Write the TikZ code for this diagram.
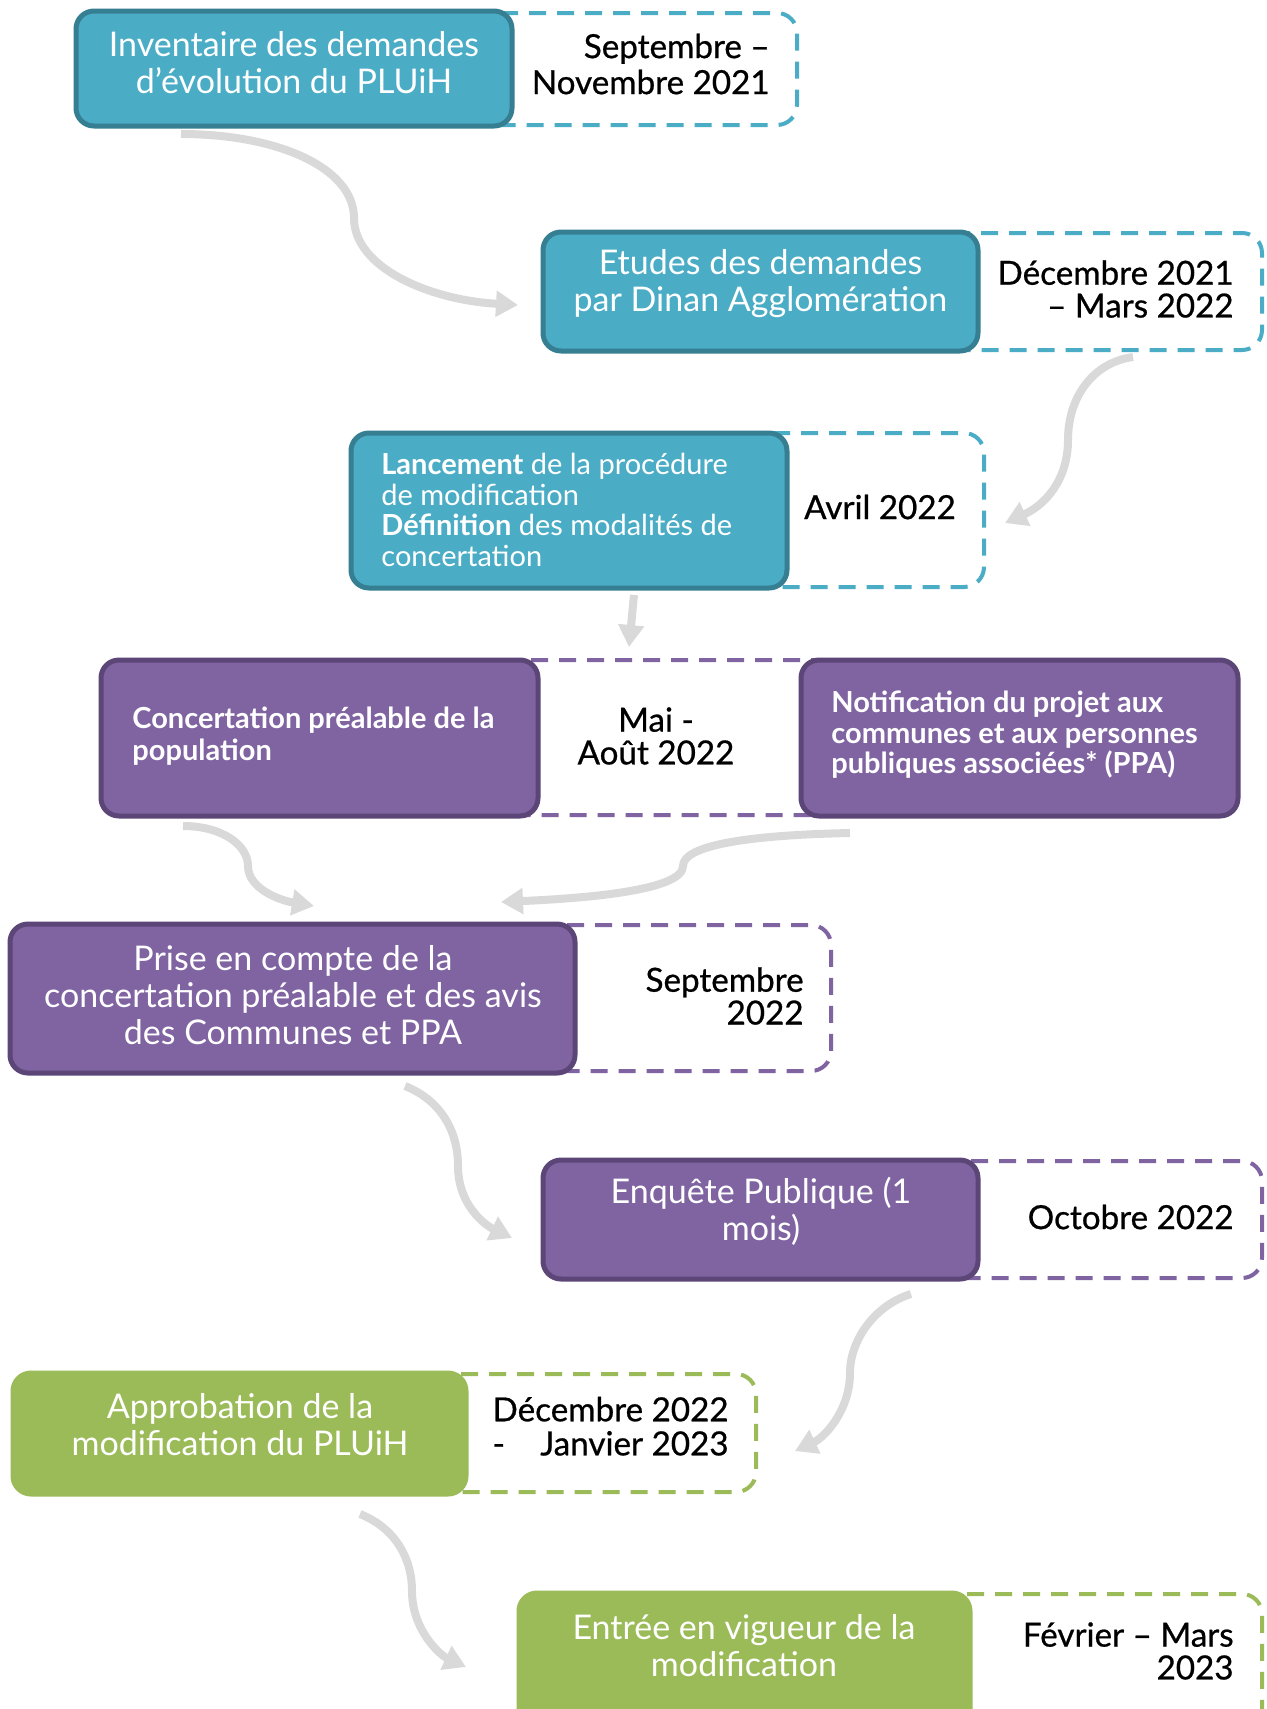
\documentclass[tikz,border=0pt]{standalone}
\usepackage{fontspec}
\setmainfont{Lato}
\newfontfamily\datefont[FakeBold=0.7]{Lato}
\usetikzlibrary{arrows.meta}
\definecolor{tealF}{HTML}{4BACC6}
\definecolor{tealD}{HTML}{367E92}
\definecolor{purpF}{HTML}{8064A2}
\definecolor{purpD}{HTML}{5C4677}
\definecolor{greenF}{HTML}{9BBB59}
\definecolor{arrG}{HTML}{D9D9D9}
\tikzset{
  solidbox/.style={rounded corners=9pt, line width=2.5pt, inner sep=0pt},
  tealbox/.style={solidbox, draw=tealD, fill=tealF},
  purpbox/.style={solidbox, draw=purpD, fill=purpF},
  greenbox/.style={solidbox, draw=greenF, fill=greenF},
  dashbox/.style={rounded corners=10pt, line width=2pt, dash pattern=on 8.5pt off 5.5pt},
  bigtxt/.style={text=white, align=center, font=\fontsize{17}{18.5}\selectfont, inner sep=0pt},
  smalltxt/.style={text=white, align=left, font=\fontsize{14.5}{15.3}\selectfont, inner sep=0pt},
  datetxt/.style={text=black, align=right, font=\datefont\fontsize{16.6}{16.4}\selectfont, inner sep=0pt},
  flow/.style={draw=arrG, line width=4pt, -{Triangle[length=11pt,width=12.5pt]}},
}
\begin{document}
\begin{tikzpicture}[x=0.5pt,y=-0.5pt]
\useasboundingbox[fill=white] (0,0) rectangle (1266,1709);

% ---- Row 1
\draw[dashbox, draw=tealF] (470,13) rectangle (797,125);
\node[tealbox, minimum width=218pt, minimum height=57.5pt] (b1) at (294,68.5) {};
\node[bigtxt] (t1) at (294,63) {Inventaire des demandes\\d’évolution du PLUiH};
\node[datetxt, anchor=east, font=\datefont\fontsize{16.6}{18}\selectfont] (d1) at (770,64) {Septembre –\\Novembre 2021};

% ---- Row 2
\draw[dashbox, draw=tealF] (930,233) rectangle (1262,350);
\node[tealbox, minimum width=217.5pt, minimum height=59.5pt] (b2) at (760.5,291.5) {};
\node[bigtxt] (t2) at (760.5,284) {Etudes des demandes\\par Dinan Agglomération};
\node[datetxt, anchor=east] (d2) at (1234,289) {Décembre 2021\\– Mars 2022};

% ---- Row 3
\draw[dashbox, draw=tealF] (740,433) rectangle (984,587);
\node[tealbox, minimum width=218pt, minimum height=77.5pt] (b3) at (569,510.5) {};
\node[smalltxt, anchor=west] (t3) at (381,510) {\textbf{Lancement} de la procédure\\de modification\\\textbf{Définition} des modalités de\\concertation};
\node[datetxt] (d3) at (880,507) {Avril 2022};

% ---- Row 4
\draw[dashbox, draw=purpF] (500,660) rectangle (840,815);
\node[purpbox, minimum width=218.5pt, minimum height=78pt] (b4a) at (319.5,738) {};
\node[smalltxt, anchor=west, font=\bfseries\fontsize{14.5}{15.8}\selectfont] (t4a) at (132,736) {Concertation préalable de la\\population};
\node[purpbox, minimum width=218.5pt, minimum height=78pt] (b4b) at (1019.5,738) {};
\node[smalltxt, anchor=west, font=\bfseries\fontsize{14.5}{15.3}\selectfont] (t4b) at (831,735) {Notification du projet aux\\communes et aux personnes\\publiques associées* (PPA)};
\node[datetxt, align=center] (d4) at (656,736) {Mai -\\Août 2022};

% ---- Row 5
\draw[dashbox, draw=purpF] (540,925) rectangle (831,1071);
\node[purpbox, minimum width=282.5pt, minimum height=74.5pt] (b5) at (292.5,998.5) {};
\node[bigtxt] (t5) at (293,995) {Prise en compte de la\\concertation préalable et des avis\\des Communes et PPA};
\node[datetxt, anchor=east] (d5) at (804,996) {Septembre\\2022};

% ---- Row 6
\draw[dashbox, draw=purpF] (940,1161) rectangle (1262,1278);
\node[purpbox, minimum width=217.5pt, minimum height=59.5pt] (b6) at (760.5,1219.5) {};
\node[bigtxt] (t6) at (761,1211) {Enquête Publique (1\\mois)};
\node[datetxt, anchor=east] (d6) at (1234,1217) {Octobre 2022};

% ---- Row 7
\draw[dashbox, draw=greenF] (440,1374) rectangle (756,1492);
\node[greenbox, minimum width=226.5pt, minimum height=60.5pt] (b7) at (239.5,1433.5) {};
\node[bigtxt] (t7) at (240,1425) {Approbation de la\\modification du PLUiH};
\node[datetxt, anchor=east] (d7) at (729,1431) {\begin{tabular}{@{}l@{}r@{}}\multicolumn{2}{@{}r@{}}{Décembre 2022}\\ - & Janvier 2023\end{tabular}};

% ---- Row 8
\draw[dashbox, draw=greenF] (930,1594) rectangle (1262,1760);
\node[greenbox, minimum width=225.5pt, minimum height=83.5pt] (b8) at (744.5,1676.5) {};
\node[bigtxt] (t8) at (744,1646) {Entrée en vigueur de la\\modification};
\node[datetxt, anchor=east] (d8) at (1234,1651) {Février – Mars\\2023};

% ---- Connectors
\coordinate (a1s) at (181,134); \coordinate (a1m) at (354,218); \coordinate (a1e) at (518,305);
\draw[flow] (a1s) .. controls (278,134) and (354,168) .. (a1m) .. controls (354,268) and (430,300) .. (a1e);

\coordinate (a2s) at (1133,357); \coordinate (a2m) at (1068,440); \coordinate (a2e) at (1005,523);
\draw[flow] (a2s) .. controls (1095,362) and (1068,395) .. (a2m) .. controls (1068,480) and (1045,505) .. (a2e);

\coordinate (a3s) at (634,595); \coordinate (a3e) at (629,647);
\draw[flow] (a3s) -- (a3e);

\coordinate (a4s) at (183,826); \coordinate (a4m) at (248,866); \coordinate (a4e) at (314,906);
\draw[flow] (a4s) .. controls (222,826) and (248,845) .. (a4m) .. controls (248,888) and (278,900) .. (a4e);

\coordinate (a5s) at (850,833); \coordinate (a5m) at (683,866); \coordinate (a5e) at (501,902);
\draw[flow] (a5s) .. controls (750,835) and (683,845) .. (a5m) .. controls (683,890) and (590,898) .. (a5e);

\coordinate (a6s) at (405,1086); \coordinate (a6m) at (458,1166); \coordinate (a6e) at (512,1238);
\draw[flow] (a6s) .. controls (440,1100) and (458,1130) .. (a6m) .. controls (458,1205) and (485,1225) .. (a6e);

\coordinate (a7s) at (911,1294); \coordinate (a7m) at (850,1373); \coordinate (a7e) at (795,1451);
\draw[flow] (a7s) .. controls (875,1305) and (850,1340) .. (a7m) .. controls (850,1410) and (825,1437) .. (a7e);

\coordinate (a8s) at (360,1514); \coordinate (a8m) at (412,1591); \coordinate (a8e) at (466,1667);
\draw[flow] (a8s) .. controls (395,1528) and (412,1558) .. (a8m) .. controls (412,1630) and (440,1655) .. (a8e);
\end{tikzpicture}
\end{document}
